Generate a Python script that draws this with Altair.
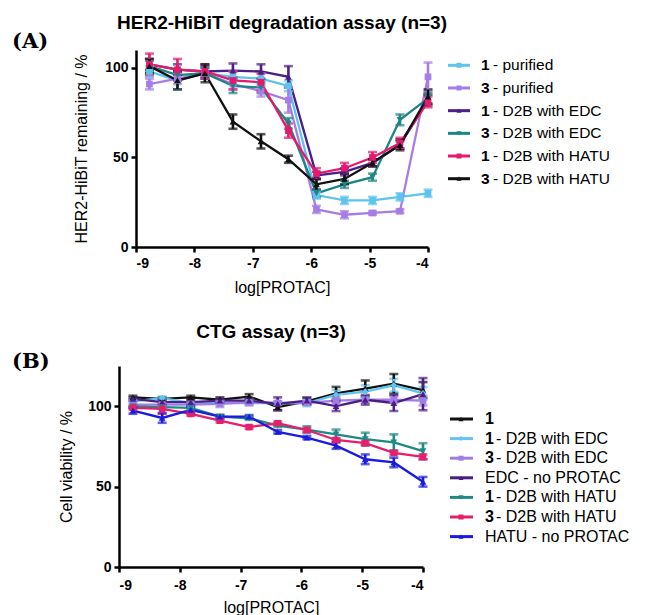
import pandas as pd
import altair as alt

# log10 of the PROTAC concentration (3-fold dilution series)
log_conc = [-8.77, -8.29, -7.82, -7.34, -6.86, -6.39, -5.91, -5.43, -4.95, -4.48, -4.0]

# (A) HER2-HiBiT degradation assay
a_series = ["1 - purified", "3 - purified", "1 - D2B with EDC",
            "3 - D2B with EDC", "1 - D2B with HATU", "3 - D2B with HATU"]
a_colors = ["#5ec3ee", "#a67de6", "#4a1f87", "#1d8584", "#e6196d", "#111111"]
a_shapes = ["square", "square", "triangle-up", "triangle-down", "square", "triangle-up"]
a_mean = [
    [98, 93, 97, 95, 94, 90, 29, 26, 26, 28, 30],
    [91, 94, 97, 91, 87, 82, 21, 18, 19, 20, 95],
    [102, 99, 98, 98.5, 98, 95, 40, 42, 47, 57, 82],
    [101, 96, 97, 90, 89, 69, 30, 35, 39, 71, 83],
    [102, 99, 98, 93, 92, 65, 41, 44, 50, 58, 81],
    [101, 93, 97, 70, 59, 49, 35, 38, 47, 57, 84],
]
a_err = [
    [3, 5, 3, 3, 3, 3, 2, 2, 2, 2, 2],
    [3, 3, 3, 3, 3, 7, 2, 2, 1, 1, 8],
    [3, 3, 3, 4, 4, 6, 2, 2, 2, 2, 3],
    [3, 3, 3, 4, 3, 3, 2, 2, 2, 3, 3],
    [6, 6, 4, 5, 5, 4, 3, 3, 3, 3, 3],
    [4, 5, 5, 4, 4, 2, 3, 3, 2, 3, 4],
]

# (B) CTG assay
b_series = ["1", "1 - D2B with EDC", "3 - D2B with EDC", "EDC - no PROTAC",
            "1 - D2B with HATU", "3 - D2B with HATU", "HATU - no PROTAC"]
b_colors = ["#111111", "#62c4ef", "#a27ce6", "#4b1e86", "#1e8a85", "#e61e6b", "#1a1ae0"]
b_shapes = ["triangle-up", "diamond", "square", "triangle-up", "triangle-down", "square", "triangle-up"]
b_mean = [
    [105.5, 104.5, 105.5, 104, 106, 99.5, 103, 108, 111, 114, 110],
    [103, 105, 102, 102, 102, 102, 102, 107, 109, 113, 108],
    [101, 101, 101, 101.5, 102.5, 102, 102, 103.5, 104, 104, 103.5],
    [104.5, 102.5, 102.5, 103.5, 103.5, 101.5, 103.5, 100, 104, 102, 107.5],
    [99.8, 99.4, 99, 93.5, 92.5, 88, 85.5, 82.5, 79.5, 77.5, 72],
    [99, 98.3, 95.2, 91, 87, 89.4, 85.2, 79, 77, 71, 68.5],
    [97.3, 92.7, 97.7, 93.5, 93.5, 84, 80.5, 75.5, 67, 65, 53],
]
b_err = [
    [1, 1, 1, 1.5, 1.5, 2, 2, 4, 5, 6, 5],
    [1, 1, 1, 1, 1, 1, 2, 3, 4, 4, 4],
    [2, 1, 1, 2, 2, 1, 1, 2, 2, 2, 3],
    [1, 1, 1, 1, 1, 4, 2, 3, 3, 5, 10],
    [1, 1, 1, 1, 1, 1, 2, 3, 4, 5, 5],
    [1, 3, 1, 1, 1, 1, 1, 1, 1, 1, 1.5],
    [2, 3, 2, 1, 1, 1, 1, 2, 3, 3, 3],
]

FONT = "Liberation Sans"


def long_df(series, means, errs):
    rows = []
    for name, m, e in zip(series, means, errs):
        for x, v, d in zip(log_conc, m, e):
            rows.append({"series": name, "x": x, "y": v, "lo": v - d, "hi": v + d})
    return pd.DataFrame(rows)


def legend_df(series):
    # split "1 - purified" into a bold number and the rest of the label
    rows = []
    for name in series:
        if name[0].isdigit():
            rows.append({"series": name, "num": name[0], "rest": name[2:]})
        else:
            rows.append({"series": name, "num": "", "rest": name})
    return pd.DataFrame(rows)


def panel(series, colors, shapes, means, errs, ymax, w, h, shift, title, title_offset,
          title_dx, ytitle, ytitle_pad, xlabel_pad, xtitle_pad, tag, tag_y, leg_x, leg_y, leg_fs):
    df = long_df(series, means, errs)
    color = alt.Color("series:N", scale=alt.Scale(domain=series, range=colors), legend=None)
    shape = alt.Shape("series:N", scale=alt.Scale(domain=series, range=shapes), legend=None)
    # shift moves the plot's left edge further left than the shared column origin
    xenc = alt.X("x:Q", scale=alt.Scale(domain=[-9, -4], nice=False, zero=False, range=[-shift, w]),
                 axis=alt.Axis(values=[-9, -8, -7, -6, -5, -4], labelExpr="'' + datum.value",
                               title="log[PROTAC]", labelPadding=xlabel_pad,
                               titlePadding=xtitle_pad))
    yscale = alt.Scale(domain=[0, ymax], nice=False)
    yaxis = alt.Axis(values=[0, 50, 100], title=ytitle, titlePadding=ytitle_pad, offset=shift)

    base = alt.Chart(df)
    lines = base.mark_line(strokeWidth=2.3).encode(
        x=xenc, y=alt.Y("y:Q", scale=yscale, axis=yaxis), color=color)
    bars = base.mark_errorbar(ticks=True, size=9, thickness=2.6).encode(
        x=xenc, y=alt.Y("lo:Q", scale=yscale, axis=yaxis), y2="hi:Q", color=color)
    pts = base.mark_point(filled=True, size=45, opacity=1).encode(
        x=xenc, y=alt.Y("y:Q", scale=yscale, axis=yaxis), color=color, shape=shape)
    data = alt.layer(lines, bars, pts)

    # hand-built legend: line + marker, bold compound number, plain text
    x0, x1, xm, xn, xr = leg_x
    leg = alt.Chart(legend_df(series))
    ly = alt.Y("series:N", scale=alt.Scale(domain=series, type="point", range=leg_y, padding=0),
               axis=None)
    txt = dict(align="left", baseline="middle", font=FONT, fontSize=leg_fs, color="black")
    leg_line = leg.mark_rule(strokeWidth=3).encode(
        y=ly, x=alt.value(x0), x2=alt.value(x1), color=color)
    leg_pt = leg.mark_point(filled=True, size=25, opacity=1).encode(
        y=ly, x=alt.value(xm), color=color, shape=shape)
    leg_num = leg.transform_filter("datum.num != ''").mark_text(fontWeight="bold", **txt).encode(
        y=ly, x=alt.value(xn), text="num:N")
    leg_rest = leg.transform_filter("datum.num != ''").mark_text(**txt).encode(
        y=ly, x=alt.value(xr), text="rest:N")
    leg_plain = leg.transform_filter("datum.num == ''").mark_text(**txt).encode(
        y=ly, x=alt.value(xn), text="rest:N")
    tag_mark = alt.Chart(pd.DataFrame({"tag": [tag]})).mark_text(
        font="DejaVu Serif", fontWeight="bold", fontSize=21, align="left", baseline="middle",
        color="black").encode(text="tag:N", x=alt.value(-124), y=alt.value(tag_y))
    legend = alt.layer(leg_line, leg_pt, leg_num, leg_rest, leg_plain, tag_mark)

    return alt.layer(data, legend).resolve_scale(y="independent").properties(
        width=w, height=h, title=alt.TitleParams(title, offset=title_offset, dx=title_dx))


panel_a = panel(a_series, a_colors, a_shapes, a_mean, a_err, 110, 292, 197, 0,
                "HER2-HiBiT degradation assay (n=3)", -1.5, 0,
                "HER2-HiBiT remaining / %", 15, 4, 9,
                "(A)", -8, (312, 334, 323, 345, 357), [15.3, 128.7], 15.5)
panel_b = panel(b_series, b_colors, b_shapes, b_mean, b_err, 125, 287, 201, 17,
                "CTG assay (n=3)", 9.5, -8.5,
                "Cell viability / %", 13, 6, 7,
                "(B)", -4, (314, 337, 325, 349, 360), [53, 170.6], 16)

chart = alt.vconcat(panel_a, panel_b, spacing=27).resolve_scale(
    color="independent", shape="independent"
).properties(
    padding={"left": 4, "top": 5, "right": 5, "bottom": 5}
).configure_view(
    strokeWidth=0
).configure_axis(
    grid=False, domainColor="black", domainWidth=2.5, tickColor="black", tickWidth=2.5,
    tickSize=5, labelFont=FONT, labelFontWeight="bold", labelFontSize=14, labelColor="black",
    labelPadding=3, titleFont=FONT, titleFontWeight="normal", titleFontSize=16, titleColor="black"
).configure_title(
    font=FONT, fontSize=19, fontWeight="bold", color="black", anchor="middle", frame="group"
)

chart.save("out.html", embed_options={"renderer": "svg", "actions": False})
